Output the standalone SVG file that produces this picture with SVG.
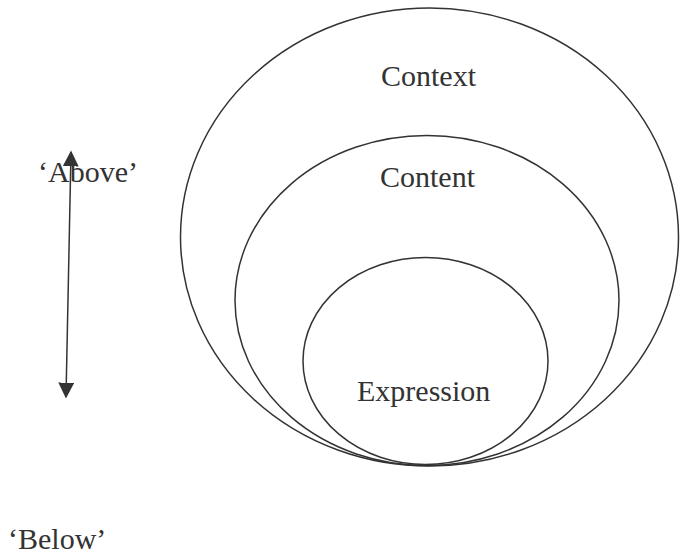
<svg xmlns="http://www.w3.org/2000/svg" width="680" height="556" viewBox="0 0 680 556">
<style>
.c{fill:none;stroke:#333;stroke-width:1.5}
.t{font-family:"Liberation Serif","Times New Roman",serif;font-size:30px;fill:#333}
.a{stroke:#333;stroke-width:1.5;fill:none}
</style>
<defs>
<marker id="ah" viewBox="0 0 10 10" refX="9" refY="5" markerWidth="16" markerHeight="16" markerUnits="userSpaceOnUse" orient="auto-start-reverse">
<path d="M0,0 L10,5 L0,10 z" fill="#333"/>
</marker>
</defs>
<rect width="680" height="556" fill="#fff"/>
<g id="context">
<ellipse class="c" cx="429.5" cy="237" rx="249" ry="229"/>
<text class="t" x="381" y="86">Context</text>
</g>
<g id="content">
<ellipse class="c" cx="427" cy="300.5" rx="192" ry="165"/>
<text class="t" x="380" y="187">Content</text>
</g>
<g id="expression">
<ellipse class="c" cx="425.5" cy="361" rx="122.5" ry="103.5"/>
<text class="t" x="357" y="401">Expression</text>
</g>
<g id="labels">
<text class="t" x="38" y="182">‘Above’</text>
<text class="t" x="8" y="549">‘Below’</text>
</g>
<g id="connectors">
<line class="a" x1="71" y1="152" x2="66" y2="397" marker-start="url(#ah)" marker-end="url(#ah)"/>
</g>
</svg>
